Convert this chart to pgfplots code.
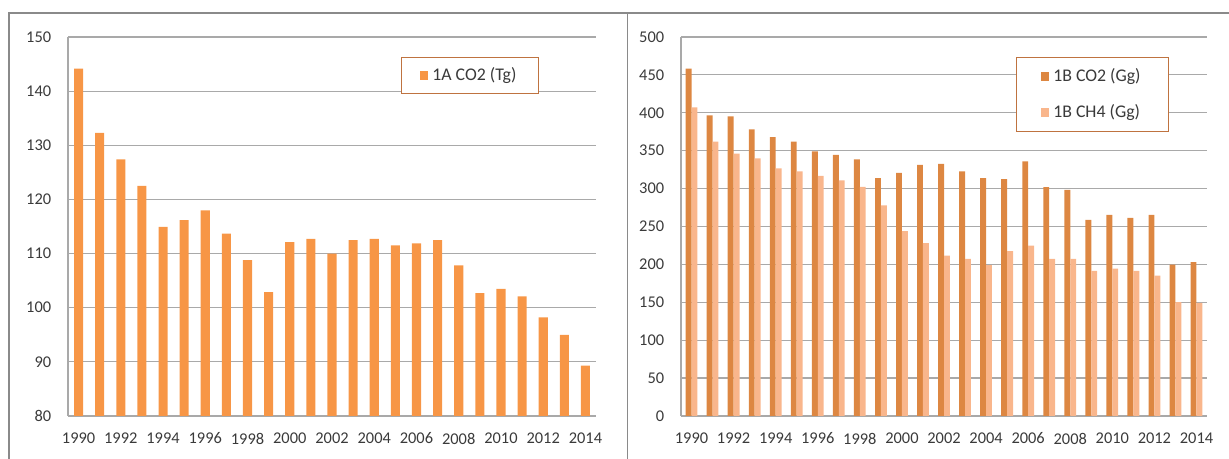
\documentclass[border=0pt]{standalone}
\usepackage{fontspec}
\setmainfont{Carlito}
\usepackage{pgfplots}
\pgfplotsset{compat=1.18}

\definecolor{barA}{HTML}{F79646}
\definecolor{barCO}{HTML}{DD8742}
\definecolor{barCH}{HTML}{F9B68C}
\definecolor{gridc}{HTML}{A9A9A9}
\definecolor{framec}{HTML}{8A8A8A}
\definecolor{txt}{HTML}{3A3A3A}
\definecolor{legc}{HTML}{BF7340}

\pgfplotsset{
  excelbars/.style={
    scale only axis, height=189.5pt,
    ybar,
    xmin=1989.5, xmax=2014.5,
    xtick={1990,1992,...,2014},
    ymajorgrids, grid style={gridc, line width=0.6pt},
    axis x line=bottom, axis y line=left,
    axis line style={gridc, line width=0.6pt, -},
    major tick length=0pt,
    tick label style={font=\fontsize{8.2}{10}\selectfont, text=txt},
    /pgf/number format/assume math mode=true,
    /pgf/number format/1000 sep={},
    xticklabel style={yshift=-4.9pt},
    yticklabel style={xshift=-4.9pt},
    legend image code/.code={\fill[##1,draw=none] (0pt,-2.2pt) rectangle (4.3pt,2.2pt);},
    legend style={draw=legc, line width=0.6pt, font=\fontsize{8.9}{11}\selectfont, text=txt,
      legend cell align=left, anchor=north west},
  }
}

\begin{document}
\begin{tikzpicture}
\useasboundingbox (0,0) rectangle (614.5pt,229.5pt);
\draw[framec, line width=0.8pt] (4.35pt,0) -- (4.35pt,223pt) -- (614.5pt,223pt);
\draw[framec, line width=0.8pt] (313.75pt,0) -- (313.75pt,223pt);

\begin{axis}[excelbars, at={(34pt,21.5pt)}, anchor=south west, width=264pt,
  ymin=80, ymax=150, ytick={80,90,...,150}, bar width=0.43,
  legend style={at={(rel axis cs:0.631,0.947)}, inner xsep=9pt, inner ysep=3pt}]
\addplot[fill=barA, draw=none] coordinates {
(1990,144.15) (1991,132.3) (1992,127.4) (1993,122.5) (1994,114.95)
(1995,116.2) (1996,118.0) (1997,113.7) (1998,108.8) (1999,102.9)
(2000,112.1) (2001,112.7) (2002,110.0) (2003,112.5) (2004,112.7)
(2005,111.5) (2006,111.9) (2007,112.5) (2008,107.8) (2009,102.7)
(2010,103.5) (2011,102.1) (2012,98.2) (2013,95.0) (2014,89.3)};
\addlegendentry{1A CO2 (Tg)}
\end{axis}

\begin{axis}[excelbars, at={(340.5pt,21.5pt)}, anchor=south west, width=263pt,
  ymin=0, ymax=500, ytick={0,50,...,500}, bar width=0.28,
  legend style={at={(rel axis cs:0.637,0.947)}, inner xsep=12pt, inner ysep=3.5pt, row sep=6pt}]
\addplot[fill=barCO, draw=none, bar shift=-0.14] coordinates {
(1990,458.2) (1991,396.6) (1992,395.2) (1993,378.1) (1994,368.0)
(1995,361.8) (1996,349.0) (1997,344.6) (1998,338.5) (1999,313.8)
(2000,320.9) (2001,331.4) (2002,332.7) (2003,322.6) (2004,313.8)
(2005,312.5) (2006,335.8) (2007,301.9) (2008,298.4) (2009,258.8)
(2010,265.4) (2011,261.4) (2012,265.4) (2013,199.8) (2014,202.9)};
\addlegendentry{1B CO2 (Gg)}
\addplot[fill=barCH, draw=none, bar shift=0.14] coordinates {
(1990,407.1) (1991,361.8) (1992,346.0) (1993,339.8) (1994,326.6)
(1995,322.6) (1996,316.9) (1997,310.7) (1998,302.4) (1999,277.7)
(2000,243.8) (2001,228.0) (2002,211.7) (2003,207.3) (2004,198.9)
(2005,217.4) (2006,224.9) (2007,207.3) (2008,207.3) (2009,191.5)
(2010,194.5) (2011,191.5) (2012,185.3) (2013,150.1) (2014,149.2)};
\addlegendentry{1B CH4 (Gg)}
\end{axis}
\end{tikzpicture}
\end{document}
